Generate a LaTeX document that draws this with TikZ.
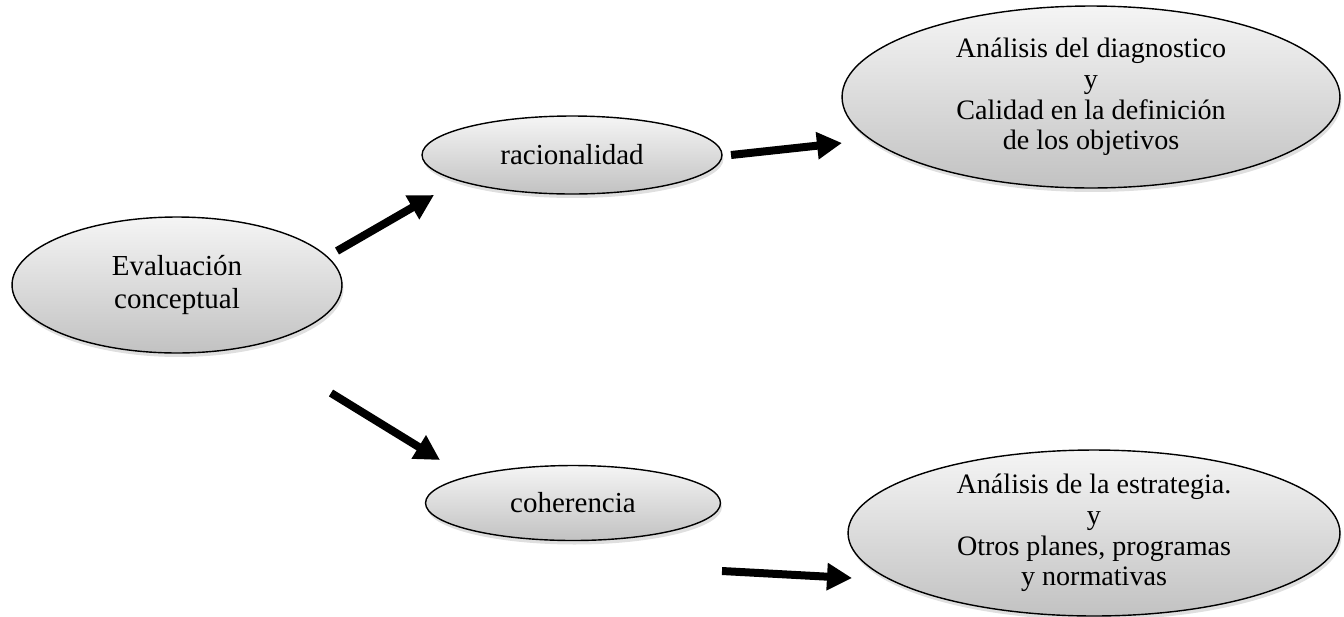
\documentclass[tikz,border=0pt]{standalone}
\usepackage{fontspec}
\setmainfont{Liberation Serif}
\usepackage{tikz}
\usetikzlibrary{shapes.geometric, arrows.meta, shadows}

\begin{document}
\begin{tikzpicture}[
    x=0.02cm, y=-0.02cm,
    bubble/.style={ellipse, draw=black, line width=0.8pt, top color=white!96!black, bottom color=black!24, inner sep=0pt, align=center, font=\fontsize{16.5}{18.4}\selectfont, drop shadow={shadow xshift=0.3mm, shadow yshift=-0.8mm, opacity=0.25}},
    bigbubble/.style={bubble, font=\fontsize{16}{17.4}\selectfont},
    line/.style={draw=black, line width=0.16cm, -{Triangle[length=0.5cm, width=0.52cm]}}
]

\useasboundingbox (0,0) rectangle (1344,616);

\node[bubble, minimum width=6.6cm, minimum height=2.72cm] (eval) at (177,285) {Evaluación\\conceptual};
\node[bubble, minimum width=6.0cm, minimum height=1.56cm] (rac) at (572,155) {racionalidad};
\node[bigbubble, minimum width=9.96cm, minimum height=3.64cm] (diag) at (1091,97) {Análisis del diagnostico\\y\\Calidad en la definición\\de los objetivos};
\node[bubble, minimum width=5.9cm, minimum height=1.5cm] (coh) at (573,503) {coherencia};
\node[bigbubble, minimum width=9.84cm, minimum height=3.32cm] (estr) at (1094,533) {Análisis de la estrategia.\\y\\Otros planes, programas\\y normativas};

% arrow ends
\coordinate (e1) at (337,251);
\coordinate (r1) at (434,195);
\coordinate (r2) at (731,155);
\coordinate (d1) at (842,143);
\coordinate (e2) at (331,393);
\coordinate (c1) at (440,460);
\coordinate (c2) at (722,571);
\coordinate (s1) at (852,578);

\draw[line] (e1) -- (r1);
\draw[line] (r2) -- (d1);
\draw[line] (e2) -- (c1);
\draw[line] (c2) -- (s1);

\end{tikzpicture}
\end{document}
